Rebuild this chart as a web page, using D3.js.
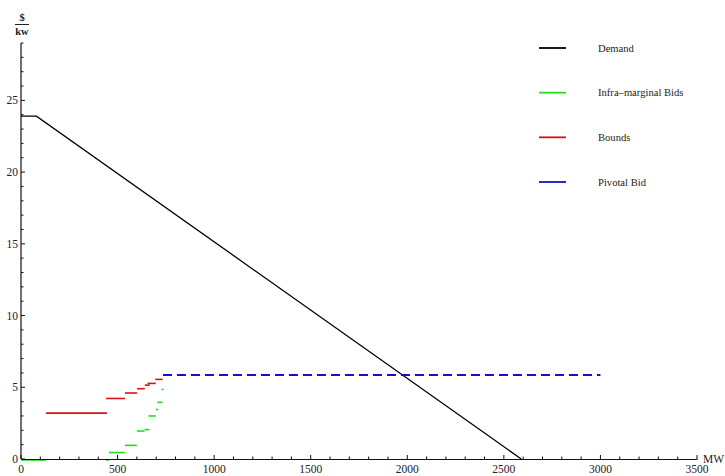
<!DOCTYPE html>
<html>
<head>
<meta charset="utf-8">
<script src="https://cdn.jsdelivr.net/npm/d3@7"></script>
<style>
  html, body { margin: 0; padding: 0; background: #fff; }
  svg text { font-family: "Liberation Serif", "Times New Roman", serif; fill: #222; }
</style>
</head>
<body>
<svg id="chart" width="725" height="476"></svg>
<script>
// ---- data ----
const xTicks = [0, 500, 1000, 1500, 2000, 2500, 3000, 3500];
const yTicks = [0, 5, 10, 15, 20, 25];
const demand = [[0, 23.9], [80, 23.9], [2590, 0]];
// infra-marginal bids: [from MW, to MW, price]
const bids = [
  [0, 130, 0], [440, 455, 0], [455, 538, 0.45], [538, 600, 0.95],
  [600, 640, 1.95], [640, 665, 2.05], [660, 698, 3.0], [698, 710, 3.45],
  [705, 733, 3.95], [728, 738, 4.85]
];
// bounds: [from MW, to MW, price]
const bounds = [
  [130, 445, 3.2], [440, 538, 4.22], [538, 601, 4.6], [601, 641, 4.9],
  [641, 667, 5.15], [655, 698, 5.27], [695, 733, 5.55]
];
const pivotal = [[735, 5.85], [3000, 5.85]];
const legendNames = ["Demand", "Infra\u2013marginal Bids", "Bounds", "Pivotal Bid"];
const legendColors = ["#000000", "#22dd22", "#dd1111", "#1111cc"];

// ---- scales ----
const svg = d3.select("#chart");
const x = d3.scaleLinear().domain([0, 3500]).range([21, 697]);
const y = d3.scaleLinear().domain([0, 29]).range([459, 43]);

// ---- data marks ----
const line = d3.line().x(d => x(d[0])).y(d => y(d[1]));

svg.append("path").datum(demand)
  .attr("d", line).attr("fill", "none")
  .attr("stroke", "#000").attr("stroke-width", 1.3);

svg.append("g").selectAll("line").data(bids).join("line")
  .attr("x1", d => x(d[0])).attr("x2", d => x(d[1]))
  .attr("y1", d => y(d[2]) + (d[2] === 0 ? 1 : 0)).attr("y2", d => y(d[2]) + (d[2] === 0 ? 1 : 0))
  .attr("stroke", "#22dd22").attr("stroke-width", 1.6);

svg.append("g").selectAll("line").data(bounds).join("line")
  .attr("x1", d => x(d[0])).attr("x2", d => x(d[1]))
  .attr("y1", d => y(d[2])).attr("y2", d => y(d[2]))
  .attr("stroke", "#dd1111").attr("stroke-width", 1.6);

svg.append("path").datum(pivotal)
  .attr("d", line).attr("fill", "none")
  .attr("stroke", "#1111cc").attr("stroke-width", 2)
  .attr("stroke-dasharray", "9,5");

// ---- axes ----
const xAxis = svg.append("g").attr("transform", `translate(0,${y(0)})`);
xAxis.call(d3.axisBottom(x).tickValues(d3.range(0, 3501, 100)).tickSize(0).tickFormat(""));
xAxis.selectAll(".tick line").remove();
xAxis.select(".domain").attr("stroke", "#111").attr("stroke-width", 1.2);
xAxis.selectAll(".minor").data(d3.range(0, 3501, 100)).join("line")
  .attr("x1", d => x(d)).attr("x2", d => x(d))
  .attr("y1", 0).attr("y2", d => d % 500 === 0 ? -4 : -2.5)
  .attr("stroke", "#111").attr("stroke-width", 1);
xAxis.selectAll(".lbl").data(xTicks).join("text")
  .attr("x", d => x(d)).attr("y", 14)
  .attr("text-anchor", "middle").attr("font-size", 11.5)
  .text(d => d);

const yAxis = svg.append("g").attr("transform", `translate(${x(0)},0)`);
yAxis.append("line").attr("x1", 0).attr("x2", 0).attr("y1", y(0)).attr("y2", y(29))
  .attr("stroke", "#111").attr("stroke-width", 1.2);
yAxis.selectAll(".mt").data(d3.range(0, 30, 1)).join("line")
  .attr("x1", 0).attr("x2", d => d % 5 === 0 ? 4 : 2.5)
  .attr("y1", d => y(d)).attr("y2", d => y(d))
  .attr("stroke", "#111").attr("stroke-width", 1);
yAxis.selectAll(".lbl").data(yTicks).join("text")
  .attr("x", -3).attr("y", d => y(d) + 4)
  .attr("text-anchor", "end").attr("font-size", 11.5)
  .text(d => d);

// axis labels
svg.append("text").attr("x", 703).attr("y", 463).attr("font-size", 11.5).text("MW");
svg.append("text").attr("x", 22).attr("y", 21).attr("text-anchor", "middle")
  .attr("font-size", 10.5).attr("font-weight", "bold").text("$");
svg.append("line").attr("x1", 15).attr("x2", 29).attr("y1", 24.5).attr("y2", 24.5)
  .attr("stroke", "#222").attr("stroke-width", 1);
svg.append("text").attr("x", 22).attr("y", 35).attr("text-anchor", "middle")
  .attr("font-size", 10.5).attr("font-weight", "bold").text("kw");

// ---- legend ----
const leg = svg.append("g");
const legY = d3.scalePoint().domain(legendNames).range([48, 182]);
leg.selectAll("line").data(legendNames).join("line")
  .attr("x1", 539).attr("x2", 566)
  .attr("y1", d => legY(d)).attr("y2", d => legY(d))
  .attr("stroke", (d, i) => legendColors[i]).attr("stroke-width", 1.8);
leg.selectAll("text").data(legendNames).join("text")
  .attr("x", 598).attr("y", d => legY(d) + 3.5)
  .attr("font-size", 10.6)
  .text(d => d);
</script>
</body>
</html>
